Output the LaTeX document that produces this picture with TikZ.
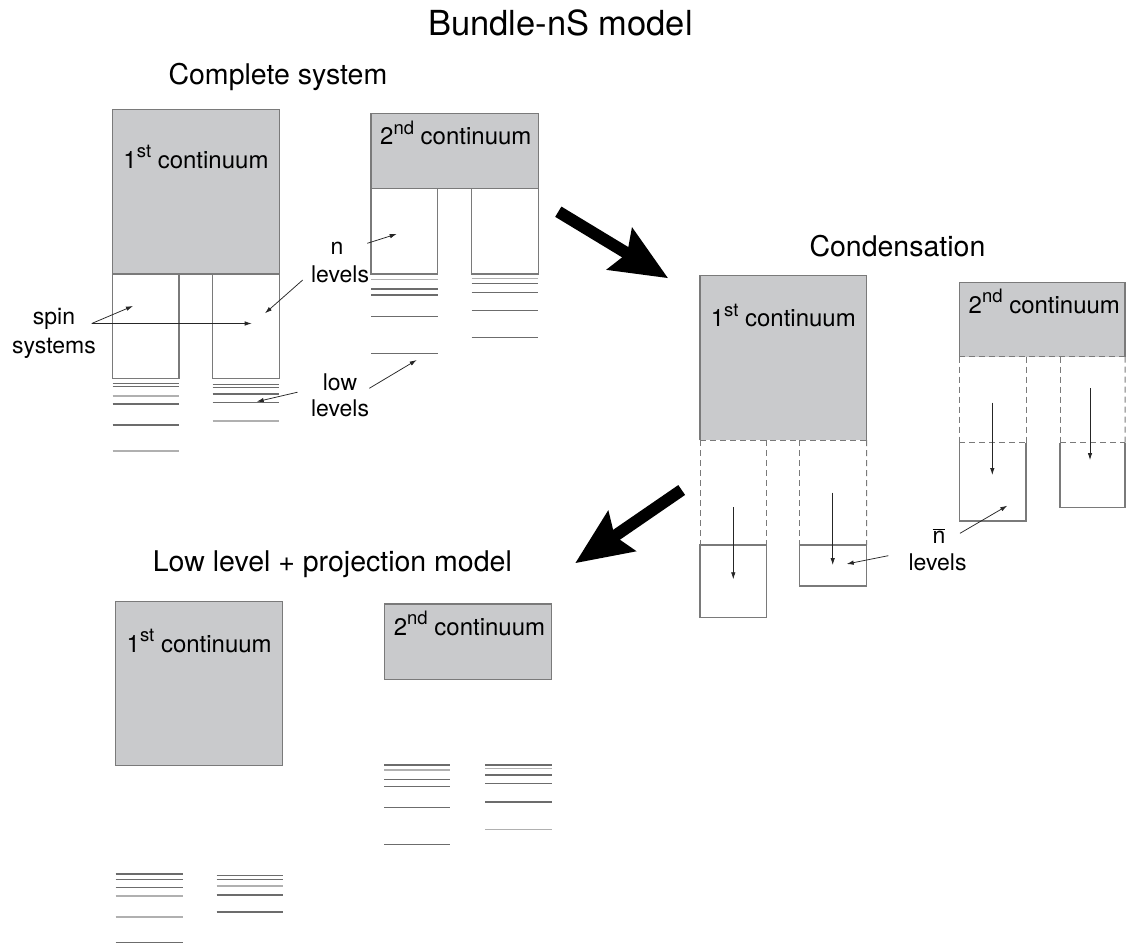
\documentclass[tikz,border=0pt]{standalone}
\usepackage{fontspec}
\setmainfont{TeX Gyre Heros}
\usetikzlibrary{arrows.meta}
\definecolor{contfill}{HTML}{C9CACC}
\definecolor{edgegray}{HTML}{7A7A7A}
\definecolor{lvldark}{HTML}{6C6C6C}
\definecolor{lvllight}{HTML}{B0B0B0}
\newcommand\suptxt[1]{\raisebox{10.5pt}{\fontsize{18.5}{18.5}\selectfont #1}}
\newcommand\rbox[6]{%
  \pgfmathsetmacro\rbw{#5-#3}\pgfmathsetmacro\rbh{#6-#4}%
  \node[#1, minimum width=\rbw pt, minimum height=\rbh pt, anchor=north west] (#2) at (#3,#4) {};}
\begin{document}
\begin{tikzpicture}[x=1pt,y=-1pt,
  cont/.style={rectangle, draw=edgegray, fill=contfill, line width=1.1pt, inner sep=0pt, outer sep=0pt},
  contnd/.style={rectangle, fill=contfill, inner sep=0pt, outer sep=0pt},
  blank/.style={rectangle, inner sep=0pt, outer sep=0pt},
  spinbox/.style={rectangle, draw=edgegray, line width=1.1pt, inner sep=0pt, outer sep=0pt},
  edge/.style={draw=edgegray, line width=1.1pt},
  dcol/.style={draw=edgegray, line width=1pt, dash pattern=on 6pt off 4pt},
  lvd/.style={draw=lvldark, line width=1.05pt},
  lvl/.style={draw=lvllight, line width=1.6pt},
  ptr/.style={-{Latex[length=7pt,width=4.5pt]}, line width=0.75pt, draw=black!85},
  bigarrow/.style={line width=12pt, -{Stealth[length=56pt,width=47pt,inset=8pt]}},
  ttl/.style={font=\fontsize{34.5}{40}\selectfont, anchor=base west, inner sep=0pt},
  sub/.style={font=\fontsize{28.5}{34}\selectfont, anchor=base west, inner sep=0pt},
  ctext/.style={font=\fontsize{24}{28}\selectfont, anchor=base, inner sep=0pt},
  lab/.style={font=\fontsize{23}{27}\selectfont, anchor=base, inner sep=0pt}
]
\useasboundingbox[fill=white] (0,0) rectangle (1126,944);

% ---------- titles ----------
\node[ttl] (title) at (428,36) {Bundle-nS model};
\node[sub] (tcomplete) at (168.3,85) {Complete system};
\node[sub] (tcond) at (809.3,256.7) {Condensation};
\node[sub] (tlow) at (152.7,571) {Low level + projection model};

% ---------- complete system ----------
\rbox{cont}{ca}{112.7}{109.3}{279.3}{274}
\rbox{spinbox}{sa1}{112.7}{274}{179}{378.3}
\rbox{spinbox}{sa2}{212.7}{274}{279.3}{378.3}
\node[ctext] (tca) at (196,168) {1\suptxt{st} continuum};
\foreach \y/\s in {383.3/lvd,386.3/lvd,395.7/lvl,404/lvd,425/lvd,450.7/lvl}
  \draw[\s] (112.7,\y) -- (179,\y);
\foreach \y/\s in {384.8/lvd,387.6/lvd,394/lvd,402.7/lvd,420.7/lvl}
  \draw[\s] (212.7,\y) -- (279.3,\y);

\rbox{cont}{cb}{371}{113.3}{538.3}{188.3}
\rbox{spinbox}{sb1}{371}{188.3}{437.7}{274}
\rbox{spinbox}{sb2}{471.7}{188.3}{538.3}{274}
\node[ctext] (tcb) at (455.8,145) {2\suptxt{nd} continuum};
\foreach \y/\s in {279.3/lvl,289/lvd,295/lvd,316.7/lvd,353.3/lvd}
  \draw[\s] (371,\y) -- (437.7,\y);
\foreach \y/\s in {278.3/lvl,283.3/lvd,292.7/lvd,310.7/lvd,337.7/lvd}
  \draw[\s] (471.7,\y) -- (538.3,\y);

% labels and pointers
\node[lab] (lspin) at (54,324) {spin};
\node[lab] (lsys) at (54,353) {systems};
\coordinate (pspin) at (91.7,323.5);
\coordinate (pspinA) at (133,306);
\coordinate (pspinB) at (251.7,323.5);
\draw[ptr] (pspin) -- (pspinA);
\draw[ptr] (pspin) -- (pspinB);

\node[lab] (ln) at (337,254) {n};
\node[lab] (lnlev) at (340,282) {levels};
\coordinate (pn) at (367.3,243.3);
\coordinate (pnA) at (396.7,234);
\coordinate (pnl) at (302.7,280);
\coordinate (pnB) at (265,313.3);
\draw[ptr] (pn) -- (pnA);
\draw[ptr] (pnl) -- (pnB);

\node[lab] (llow) at (340,390) {low};
\node[lab] (llowlev) at (340,416.7) {levels};
\coordinate (pl) at (369.3,388.3);
\coordinate (plA) at (416.7,360);
\coordinate (pll) at (297.5,392.2);
\coordinate (plB) at (256.7,401.7);
\draw[ptr] (pl) -- (plA);
\draw[ptr] (pll) -- (plB);

% ---------- big arrows ----------
\coordinate (baAs) at (558.3,211.7);
\coordinate (baAe) at (668.3,278.3);
\draw[bigarrow] (baAs) -- (baAe);
\coordinate (baBs) at (681.7,490);
\coordinate (baBe) at (575,563.3);
\draw[bigarrow] (baBs) -- (baBe);

% ---------- condensation ----------
\rbox{contnd}{cc}{700}{275.7}{866.7}{440}
\draw[edge] (cc.south west) -- (cc.north west) -- (cc.north east) -- (cc.south east);
\draw[dcol] (cc.south west) -- (cc.south east);
\node[ctext] (tcc) at (783.3,326.7) {1\suptxt{st} continuum};
\rbox{spinbox}{dc1}{700}{545}{766.7}{617.7}
\rbox{spinbox}{dc2}{799.3}{545}{866.7}{586}
\draw[dcol] (cc.south west) -- (dc1.north west);
\draw[dcol] (dc1.north east |- cc.south) -- (dc1.north east);
\draw[dcol] (dc2.north west |- cc.south) -- (dc2.north west);
\draw[dcol] (cc.south east) -- (dc2.north east);
\coordinate (qa1) at (733.3,507.3);
\coordinate (qa2) at (733.3,579.3);
\coordinate (qb1) at (832.7,492.7);
\coordinate (qb2) at (832.7,565);
\draw[ptr] (qa1) -- (qa2);
\draw[ptr] (qb1) -- (qb2);

\rbox{contnd}{cd}{959.3}{282.3}{1125}{356.7}
\draw[edge] (cd.south west) -- (cd.north west) -- (cd.north east) -- (cd.south east);
\draw[dcol] (cd.south west) -- (cd.south east);
\node[ctext] (tcd) at (1044.3,313.3) {2\suptxt{nd} continuum};
\rbox{blank}{dd1}{959.3}{442.7}{1026}{521}
\rbox{blank}{dd2}{1060}{442.7}{1125}{507.3}
\draw[edge] (dd1.north west) -- (dd1.south west) -- (dd1.south east) -- (dd1.north east);
\draw[edge] (dd2.north west) -- (dd2.south west) -- (dd2.south east) -- (dd2.north east);
\draw[dcol] (dd1.north west) -- (dd1.north east);
\draw[dcol] (dd2.north west) -- (dd2.north east);
\draw[dcol] (cd.south west) -- (dd1.north west);
\draw[dcol] (dd1.north east |- cd.south) -- (dd1.north east);
\draw[dcol] (dd2.north west |- cd.south) -- (dd2.north west);
\draw[dcol] (cd.south east) -- (dd2.north east);
\coordinate (qc1) at (992.3,402.7);
\coordinate (qc2) at (992.3,475);
\coordinate (qd1) at (1090,388.3);
\coordinate (qd2) at (1090,460);
\draw[ptr] (qc1) -- (qc2);
\draw[ptr] (qd1) -- (qd2);

\node[lab] (lnbar) at (939,543.3) {$\overline{\hbox{n}}$};
\node[lab] (lnbarlev) at (937.5,570.7) {levels};
\coordinate (pm) at (960,533.3);
\coordinate (pmA) at (1007.3,505.7);
\coordinate (pml) at (888.3,555.7);
\coordinate (pmB) at (846.7,564);
\draw[ptr] (pm) -- (pmA);
\draw[ptr] (pml) -- (pmB);

% ---------- low level + projection model ----------
\rbox{cont}{ce}{115.7}{601.7}{282.7}{765.7}
\node[ctext] (tce) at (199.2,652.3) {1\suptxt{st} continuum};
\rbox{cont}{cf}{384.3}{604}{551.7}{679.3}
\node[ctext] (tcf) at (469.5,635) {2\suptxt{nd} continuum};
\foreach \y/\s in {765/lvd,770/lvl,779.3/lvd,786.7/lvd,807.7/lvd,844.3/lvd}
  \draw[\s] (384.3,\y) -- (450,\y);
\foreach \y/\s in {765/lvd,768.6/lvl,775/lvd,783.3/lvd,802/lvd,829.3/lvl}
  \draw[\s] (485,\y) -- (552.3,\y);
\foreach \y/\s in {874/lvd,879.3/lvd,887.7/lvd,895.7/lvl,917/lvl,942.3/lvd}
  \draw[\s] (115.7,\y) -- (182.7,\y);
\foreach \y/\s in {875.3/lvd,879.3/lvd,885.7/lvl,895/lvd,912/lvd}
  \draw[\s] (216.7,\y) -- (283.3,\y);
\end{tikzpicture}
\end{document}
